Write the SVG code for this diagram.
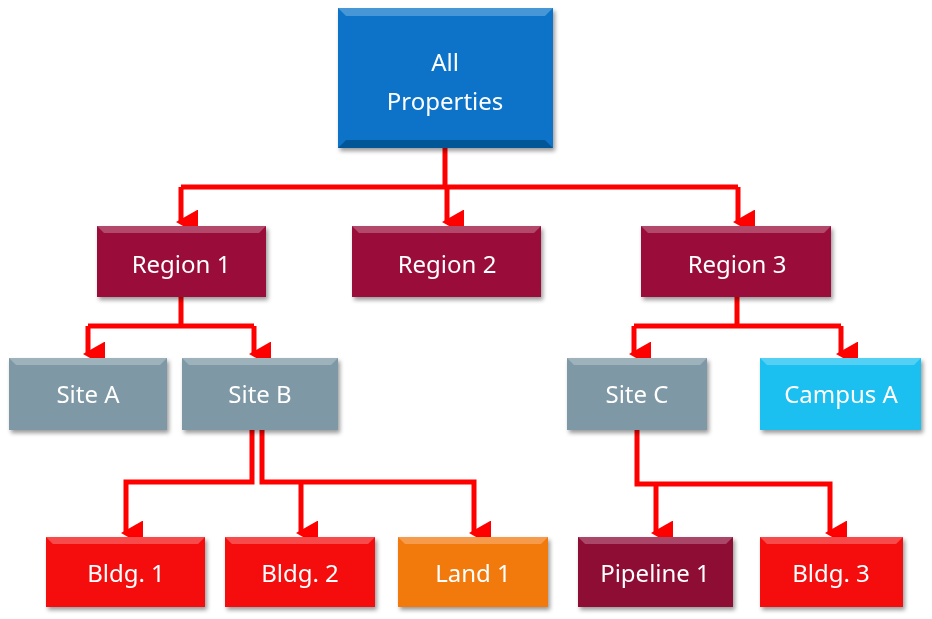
<svg xmlns="http://www.w3.org/2000/svg" width="932" height="619" viewBox="0 0 932 619">
<style>
text{font-family:"Noto Sans","Liberation Sans",sans-serif;fill:#fff;text-anchor:middle;font-size:24px}
.c{stroke:#ff0000;stroke-width:5;fill:none}
.hl{fill:#fff;opacity:.25}
.dk{fill:#000;opacity:.25}
</style>
<defs>
<marker id="a" markerWidth="5" markerHeight="5" refX="2.5" refY="4" orient="auto" markerUnits="strokeWidth" viewBox="0 0 5 5"><path d="M0,0.6 L5,0.6 L2.5,5 z" fill="#ff0000"/></marker>
<filter id="s" x="-10%" y="-10%" width="130%" height="140%"><feDropShadow dx="2" dy="3" stdDeviation="2" flood-opacity="0.4"/></filter>
</defs>
<g id="connectors" class="c">
<path d="M445,148 V187"/><path d="M181,187 H738"/>
<path d="M181,187 V222" marker-end="url(#a)"/><path d="M447,187 V222" marker-end="url(#a)"/><path d="M738,187 V222" marker-end="url(#a)"/>
<path d="M181,297 V326"/><path d="M88,326 H254"/>
<path d="M88,326 V354" marker-end="url(#a)"/><path d="M254,326 V354" marker-end="url(#a)"/>
<path d="M737,297 V326"/><path d="M634,326 H841"/>
<path d="M634,326 V354" marker-end="url(#a)"/><path d="M841,326 V354" marker-end="url(#a)"/>
<path d="M252,430 V482 H126 V533" marker-end="url(#a)"/>
<path d="M262,430 V482 H474 V533" marker-end="url(#a)"/>
<path d="M301,482 V533" marker-end="url(#a)"/>
<path d="M637,430 V484 H830 V533" marker-end="url(#a)"/>
<path d="M656,484 V533" marker-end="url(#a)"/>
</g>
<g id="all" filter="url(#s)"><rect x="338" y="8" width="215" height="140" fill="#0873c8"/><path class="hl" d="M338,8 H553 L545,16 H346 z"/><path class="dk" d="M338,148 H553 L545,140 H346 z"/><text x="445" y="71">All</text><text x="445" y="110">Properties</text></g>
<g id="r1" filter="url(#s)"><rect x="97" y="226" width="169" height="71" fill="#9a0d3a"/><path class="hl" d="M97,226 H266 L259,233 H104 z"/><text x="181" y="273">Region 1</text></g>
<g id="r2" filter="url(#s)"><rect x="352" y="226" width="189" height="71" fill="#9a0d3a"/><path class="hl" d="M352,226 H541 L534,233 H359 z"/><text x="447" y="273">Region 2</text></g>
<g id="r3" filter="url(#s)"><rect x="641" y="226" width="190" height="71" fill="#9a0d3a"/><path class="hl" d="M641,226 H831 L824,233 H648 z"/><text x="737" y="273">Region 3</text></g>
<g id="sa" filter="url(#s)"><rect x="9" y="358" width="158" height="72" fill="#7e98a6"/><path class="hl" d="M9,358 H167 L160,365 H16 z"/><text x="88" y="403">Site A</text></g>
<g id="sb" filter="url(#s)"><rect x="182" y="358" width="156" height="72" fill="#7e98a6"/><path class="hl" d="M182,358 H338 L331,365 H189 z"/><text x="260" y="403">Site B</text></g>
<g id="sc" filter="url(#s)"><rect x="567" y="358" width="140" height="72" fill="#7e98a6"/><path class="hl" d="M567,358 H707 L700,365 H574 z"/><text x="637" y="403">Site C</text></g>
<g id="ca" filter="url(#s)"><rect x="760" y="358" width="161" height="72" fill="#1ac0f0"/><path class="hl" d="M760,358 H921 L914,365 H767 z"/><text x="841" y="403">Campus A</text></g>
<g id="b1" filter="url(#s)"><rect x="46" y="537" width="159" height="70" fill="#f51010"/><path class="hl" d="M46,537 H205 L198,544 H53 z"/><text x="126" y="582">Bldg.  1</text></g>
<g id="b2" filter="url(#s)"><rect x="225" y="537" width="150" height="70" fill="#f51010"/><path class="hl" d="M225,537 H375 L368,544 H232 z"/><text x="300" y="582">Bldg. 2</text></g>
<g id="l1" filter="url(#s)"><rect x="398" y="537" width="150" height="70" fill="#f27a10"/><path class="hl" d="M398,537 H548 L541,544 H405 z"/><text x="473" y="582">Land 1</text></g>
<g id="p1" filter="url(#s)"><rect x="578" y="537" width="155" height="70" fill="#8e0a34"/><path class="hl" d="M578,537 H733 L726,544 H585 z"/><text x="655" y="582">Pipeline 1</text></g>
<g id="b3" filter="url(#s)"><rect x="760" y="537" width="143" height="70" fill="#f51010"/><path class="hl" d="M760,537 H903 L896,544 H767 z"/><text x="831" y="582">Bldg. 3</text></g>
</svg>
